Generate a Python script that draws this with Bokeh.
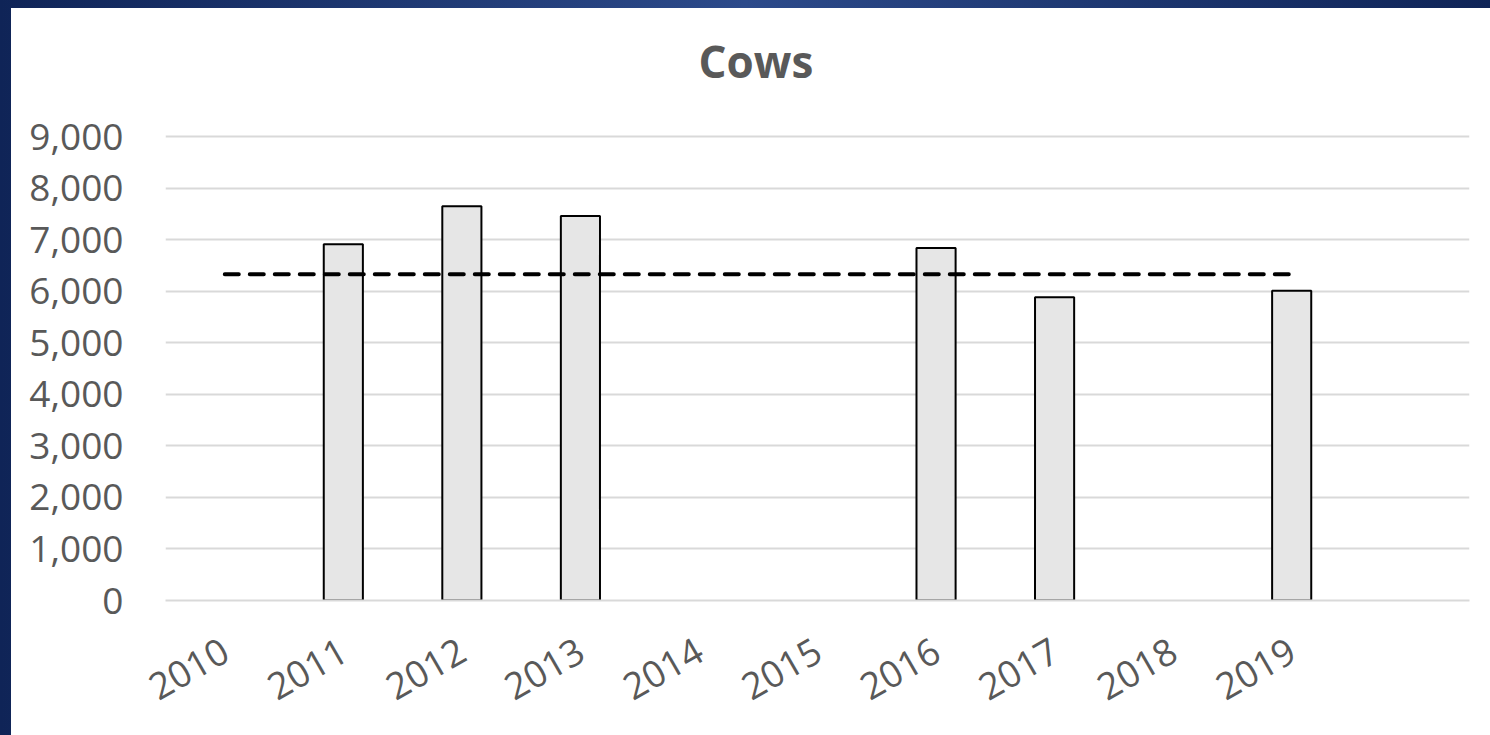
import math
from bokeh.plotting import figure
from bokeh.models import FactorRange, Range1d, NumeralTickFormatter, SingleIntervalTicker, Title
from bokeh.embed import file_html
from bokeh.resources import INLINE

# ---- data ----
title_text = "Cows"
years = ["2010", "2011", "2012", "2013", "2014", "2015", "2016", "2017", "2018", "2019"]
bar_years = ["2011", "2012", "2013", "2016", "2017", "2019"]
cows = [6910, 7650, 7460, 6840, 5885, 6010]
average = [6330] * len(years)
y_min, y_max = 0, 9000

factors = years + [" "]

p = figure(
    x_range=FactorRange(factors=factors, range_padding=0),
    y_range=Range1d(y_min, y_max + 40),
    width=1479, height=727,
    output_backend="svg", toolbar_location=None,
    min_border_left=154, min_border_right=21, min_border_top=126, min_border_bottom=133,
)
p.background_fill_color = "white"
p.border_fill_color = "white"
p.outline_line_color = None

# spacer next to the frame, then the real title above it
spacer = Title(text=" ", text_font_size="1px", standoff=36)
p.add_layout(spacer, "above")
main_title = Title(
    text=title_text, align="left", offset=533, standoff=10,
    text_font="Open Sans", text_font_size="44px", text_font_style="bold",
    text_color="#595959",
)
p.add_layout(main_title, "above")

p.vbar(x=bar_years, top=cows, width=0.33, fill_color="#e6e6e6",
       line_color="black", line_width=2)
p.line(x=years, y=average, line_color="black", line_width=4,
       line_dash="14 11", line_cap="round")

p.yaxis.ticker = SingleIntervalTicker(interval=1000)
p.yaxis.formatter = NumeralTickFormatter(format="0,0")
p.yaxis.axis_line_color = None
p.yaxis.major_tick_line_color = None
p.yaxis.minor_tick_line_color = None
p.yaxis.major_label_standoff = 36
p.yaxis.major_label_text_font = "Open Sans"
p.yaxis.major_label_text_font_size = "37px"
p.yaxis.major_label_text_color = "#595959"

p.xaxis.axis_line_color = "#d9d9d9"
p.xaxis.axis_line_width = 2
p.xaxis.major_tick_line_color = None
p.xaxis.minor_tick_line_color = None
p.xaxis.major_label_orientation = math.pi / 6
p.xaxis.major_label_standoff = 40
p.xaxis.major_label_text_font = "Open Sans"
p.xaxis.major_label_text_font_size = "37px"
p.xaxis.major_label_text_color = "#595959"

p.xgrid.grid_line_color = None
p.ygrid.grid_line_color = "#d9d9d9"
p.ygrid.grid_line_width = 2

html = file_html(p, INLINE)
html = html.replace(
    "</head>",
    "<style>html{background:linear-gradient(90deg,#0f2457 0%,#2c4a8a 50%,#0f2457 100%);overflow:hidden;}"
    "body{margin:8px 0 0 11px;padding:0;background:white;width:1479px;height:727px;overflow:hidden;}</style></head>",
    1,
)
open("out.html", "w").write(html)
